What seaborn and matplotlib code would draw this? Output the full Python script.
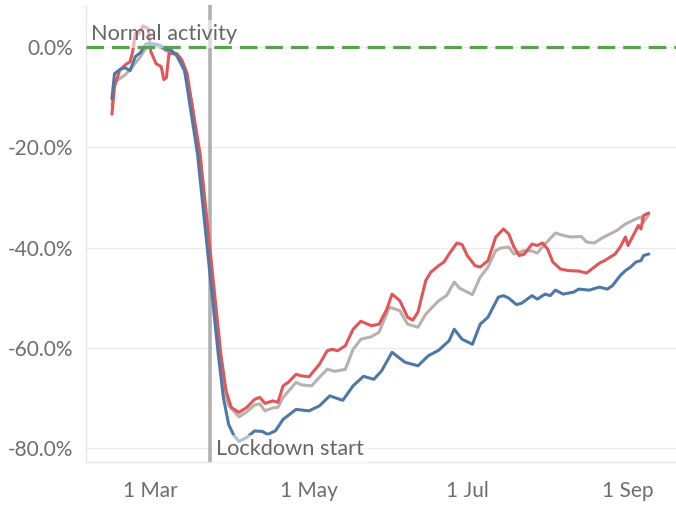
import matplotlib
matplotlib.use("Agg")
import matplotlib.pyplot as plt
import pandas as pd
import seaborn as sns

START = pd.Timestamp("2020-03-01")

# day offsets from 1 Mar 2020 and activity change (%) for each series
red_days = [-15, -14, -12, -10, -8, -7, -6, -5, -3, -1, 0, 2, 4, 5, 6, 7, 10, 12, 14, 16,
            19, 21, 23, 25, 27, 29, 31, 34, 37, 40, 42, 44, 47, 49, 51, 53, 56, 58, 61, 65,
            68, 70, 72, 75, 78, 81, 85, 88, 91, 93, 96, 99, 101, 103, 106, 108, 111, 113, 115, 118,
            120, 122, 125, 127, 130, 133, 136, 138, 140, 142, 144, 147, 149, 151, 153, 155, 158, 161, 165, 168,
            170, 173, 175, 179, 181, 183, 184, 186, 188, 189, 190, 192]
red_vals = [-13.4, -7.9, -4.6, -3.6, -2.9, -0.9, 2.7, 2.6, 4.2, 3.7, -0.9, -3.3, -3.9, -6.5, -6.1, -1.3, -1.3, -2.6, -5.3, -11.9,
            -21.3, -31.3, -41.3, -51.3, -61.3, -68.6, -71.9, -72.9, -71.9, -70.3, -69.9, -71.1, -70.6, -70.9, -67.6, -66.9, -65.3, -65.6, -65.8, -63.3,
            -60.6, -60.3, -60.6, -59.6, -56.3, -54.7, -55.6, -55.3, -52.3, -49.3, -50.6, -53.9, -54.5, -52.9, -46.6, -44.9, -43.6, -42.9, -41.3, -39.1,
            -39.4, -41.6, -43.6, -43.9, -42.6, -37.9, -36.3, -37.3, -39.9, -41.6, -41.3, -39.3, -39.6, -39.1, -40.3, -42.9, -44.3, -44.6, -44.7, -45.1,
            -44.3, -43.1, -42.6, -41.3, -39.9, -37.9, -39.6, -37.6, -35.6, -36.3, -33.6, -33.1]

grey_days = [-15, -14, -12, -10, -7, -4, -2, -1, 2, 4, 6, 8, 10, 13, 16, 18, 20, 22, 24, 26,
             28, 30, 34, 37, 40, 42, 44, 47, 49, 51, 56, 58, 62, 65, 68, 71, 75, 78, 81, 85,
             88, 92, 96, 99, 103, 106, 111, 114, 117, 119, 124, 127, 130, 133, 135, 138, 140, 144, 147, 149,
             152, 156, 159, 162, 166, 168, 171, 174, 177, 180, 183, 187, 189, 190, 192]
grey_vals = [-11.7, -7.0, -6.3, -5.6, -3.9, -1.9, -0.3, 0.1, 0.3, -0.1, -0.8, -1.0, -1.8, -4.8, -11.5, -20.0, -30.0, -40.0, -50.0, -60.0,
             -67.5, -71.5, -73.8, -72.8, -71.4, -71.2, -72.6, -72.0, -71.9, -69.9, -66.9, -67.4, -67.6, -65.9, -64.3, -64.7, -64.3, -60.3, -58.3, -57.8,
             -56.9, -51.9, -52.6, -55.3, -55.9, -53.3, -50.6, -49.6, -46.9, -48.1, -49.4, -45.9, -43.9, -40.6, -40.1, -39.9, -41.3, -40.6, -40.7, -41.1,
             -39.3, -37.1, -37.6, -37.9, -37.8, -38.9, -39.1, -38.1, -37.3, -36.5, -35.3, -34.3, -33.9, -35.0, -33.4]

blue_days = [-15, -14, -12, -10, -8, -6, -4, -2, -1, 2, 4, 6, 8, 10, 13, 15, 18, 20, 22, 24,
             26, 28, 30, 32, 34, 37, 40, 43, 45, 48, 51, 56, 61, 65, 69, 74, 78, 82, 86, 89,
             93, 98, 103, 107, 111, 115, 117, 120, 124, 127, 130, 134, 136, 138, 141, 143, 147, 149, 152, 154,
             156, 159, 163, 165, 169, 173, 176, 178, 181, 183, 185, 187, 189, 190, 192]
blue_vals = [-10.3, -5.3, -4.5, -4.1, -4.7, -1.9, -1.1, 0.6, 0.7, 0.6, 0.2, -0.5, -0.7, -1.6, -4.6, -11.3, -21.3, -31.3, -41.3, -51.3,
             -61.3, -70.0, -75.3, -77.5, -78.7, -77.9, -76.6, -76.7, -77.3, -76.6, -74.3, -72.3, -72.6, -71.6, -69.6, -70.5, -67.6, -65.7, -66.3, -64.6,
             -60.9, -62.9, -63.6, -61.6, -60.5, -58.6, -56.3, -58.3, -59.3, -55.3, -53.9, -49.9, -49.6, -50.1, -51.4, -51.1, -49.6, -50.3, -49.3, -49.6,
             -48.5, -49.3, -48.9, -48.3, -48.5, -47.9, -48.3, -47.6, -45.6, -44.6, -43.9, -42.9, -42.6, -41.6, -41.3]

series_names = ["Grey", "Red", "Blue"]
series_colors = {"Grey": "#bab0ac", "Red": "#e15759", "Blue": "#4e79a7"}

normal_level = 0.0
normal_label = "Normal activity"
lockdown_date = pd.Timestamp("2020-03-24")
lockdown_label = "Lockdown start"

y_ticks = [0, -20, -40, -60, -80]
y_labels = ["0.0%", "-20.0%", "-40.0%", "-60.0%", "-80.0%"]
x_ticks = pd.date_range("2020-03-01", "2020-09-01", freq="MS")
x_labels = ["1 Mar", "", "1 May", "", "1 Jul", "", "1 Sep"]

frames = []
for name, days, vals in [("Grey", grey_days, grey_vals), ("Red", red_days, red_vals), ("Blue", blue_days, blue_vals)]:
    frames.append(pd.DataFrame({
        "date": START + pd.to_timedelta(days, unit="D"),
        "value": vals,
        "series": name,
    }))
df = pd.concat(frames, ignore_index=True)

sns.set_style("white")
plt.rcParams["font.family"] = ["Lato", "DejaVu Sans"]

fig = plt.figure(figsize=(6.76, 5.07), dpi=100)
ax = fig.add_axes([86 / 676, 45 / 507, 590 / 676, 457 / 507])

sns.lineplot(data=df, x="date", y="value", hue="series", hue_order=series_names,
             palette=series_colors, linewidth=2.2, legend=False, estimator=None,
             errorbar=None, ax=ax, zorder=3)

ax.set_xlim(pd.Timestamp("2020-02-05"), pd.Timestamp("2020-09-19 12:00"))
ax.set_ylim(-82.8, 8.4)

ax.yaxis.grid(True, color="#ebebeb", linewidth=1.0, zorder=0)
ax.xaxis.grid(False)
ax.set_axisbelow(True)

for s in ["top", "right"]:
    ax.spines[s].set_visible(False)
for s in ["left", "bottom"]:
    ax.spines[s].set_color("#e6e6e6")
    ax.spines[s].set_linewidth(1.0)

ax.set_yticks(y_ticks)
ax.set_yticklabels(y_labels)
ax.set_xticks(x_ticks)
ax.set_xticklabels(x_labels)
ax.tick_params(axis="y", length=6, color="#e6e6e6", labelcolor="#6e6e6e", labelsize=15, pad=3)
ax.tick_params(axis="x", length=6, color="#e6e6e6", labelcolor="#6e6e6e", labelsize=15, pad=8)
ax.set_xlabel("")
ax.set_ylabel("")

ax.axhline(normal_level, color="#59a14f", linewidth=2.3, linestyle=(0, (5.5, 2.5)), zorder=6)
ax.axvline(lockdown_date, color="#b0b0b0", linewidth=2.6, zorder=2)

bb = dict(boxstyle="square,pad=0.2", facecolor="white", edgecolor="none", alpha=0.55)
ax.text(0.0085, 1.4, normal_label, transform=ax.get_yaxis_transform(), fontsize=15.7,
        color="#666666", va="baseline", ha="left", bbox=bb, zorder=5)
ax.text(lockdown_date + pd.Timedelta(days=2.1), -81.4, lockdown_label, fontsize=15.7,
        color="#666666", va="baseline", ha="left", bbox=bb, zorder=5)

fig.savefig("out.png", dpi=100)
